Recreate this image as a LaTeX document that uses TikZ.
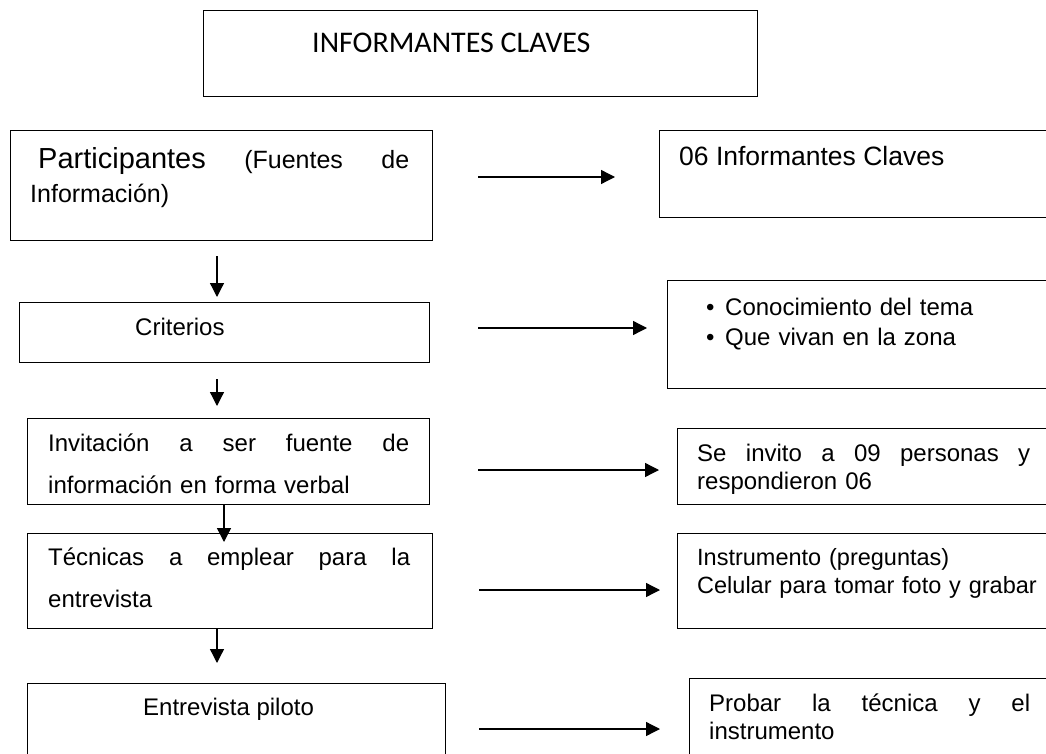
\documentclass[tikz,border=0pt]{standalone}
\usepackage{fontspec}
\setmainfont{Liberation Sans}
\newfontfamily\titlefont{Carlito}
\usetikzlibrary{arrows.meta,positioning,calc}
\newcommand{\jline}[2]{\hbox to #1{#2}}
\tikzset{
  flowbox/.style ={draw,line width=1.3pt,anchor=north west,inner sep=0pt},
  txt/.style     ={anchor=base west,inner sep=0pt,align=left,
                   font=\fontsize{24}{28}\selectfont},
  widetxt/.style ={txt,font=\fontsize{24}{42}\selectfont},
  arr/.style     ={-{Triangle[length=14pt,width=14pt]},line width=1.3pt},
}
\begin{document}
\begin{tikzpicture}[x=1pt,y=-1pt]
\useasboundingbox (0,0) rectangle (1046,754);
\clip (0,0) rectangle (1046,754);

% title
\node[flowbox,minimum width=554pt,minimum height=86pt] (title) at (203,10) {};
\node[txt,font=\titlefont\fontsize{30}{36}\selectfont] (titletxt) at (312,53)
   {INFORMANTES CLAVES};

% left column
\node[flowbox,minimum width=422pt,minimum height=110pt] (b1) at (10,130) {};
\node[flowbox,minimum width=410pt,minimum height=60pt]  (b2) at (19,302) {};
\node[flowbox,minimum width=402pt,minimum height=86pt]  (b3) at (27,418) {};
\node[flowbox,minimum width=405pt,minimum height=95pt]  (b4) at (27,533) {};
\node[flowbox,minimum width=418pt,minimum height=100pt] (b5) at (27,683) {};

\node[txt,text width=379pt,font=\fontsize{25}{33}\selectfont] (b1t) at (30,169)
   {\jline{379pt}{\kern8pt{\fontsize{29}{33}\selectfont Participantes}\hfill
    (Fuentes\hfill de}\\ Información)};
\node[txt] (b2t) at (135,335) {Criterios};
\node[widetxt,text width=361pt] (b3t) at (48,451)
   {\jline{361pt}{Invitación\hfill a\hfill ser\hfill fuente\hfill de}\\
    información en forma verbal};
\node[widetxt,text width=362pt] (b4t) at (48,565)
   {\jline{362pt}{Técnicas\hfill a\hfill emplear\hfill para\hfill la}\\ entrevista};
\node[txt] (b5t) at (143,715) {Entrevista piloto};

% right column
\node[flowbox,minimum width=400pt,minimum height=87pt]  (r1) at (659,130) {};
\node[flowbox,minimum width=400pt,minimum height=108pt] (r2) at (667,280) {};
\node[flowbox,minimum width=400pt,minimum height=76pt]  (r3) at (677,428) {};
\node[flowbox,minimum width=400pt,minimum height=95pt]  (r4) at (677,533) {};
\node[flowbox,minimum width=400pt,minimum height=100pt] (r5) at (689,678) {};

\node[txt,font=\fontsize{26.5}{30}\selectfont] (r1t) at (679,166) {06 Informantes Claves};
\node[txt,text width=330pt,font=\fontsize{24}{30}\selectfont] (r2t) at (706,315)
   {\makebox[19pt][l]{•}Conocimiento del tema\\
    \makebox[19pt][l]{•}Que vivan en la zona};
\node[txt,text width=333pt] (r3t) at (697,461)
   {\jline{333pt}{Se\hfill invito\hfill a\hfill 09\hfill personas\hfill y}\\
    respondieron 06};
\node[txt,text width=360pt,font=\fontsize{23.5}{28}\selectfont] (r4t) at (697,565)
   {Instrumento (preguntas)\\ Celular para tomar foto y grabar};
\node[txt,text width=321pt] (r5t) at (709,711)
   {\jline{321pt}{Probar\hfill la\hfill técnica\hfill y\hfill el}\\ instrumento};

% downward flow
\draw[arr] ($(b1.south west)+(207,15)$) -- ($(b2.north west)+(198,-5)$);
\draw[arr] ($(b2.south west)+(198,16)$) -- ($(b3.north west)+(190,-12)$);
\draw[arr] ($(b3.south west)+(197,0)$)  -- ($(b4.north west)+(197,9)$);
\draw[arr] ($(b4.south west)+(190,0)$)  -- ($(b5.north west)+(190,-20)$);

% left to right
\draw[arr] ($(b1.north east)+(45,47)$) -- ($(r1.north west)+(-44,47)$);
\draw[arr] ($(b2.north east)+(48,26)$) -- ($(r2.north west)+(-20,48)$);
\draw[arr] ($(b3.north east)+(48,52)$) -- ($(r3.north west)+(-18,42)$);
\draw[arr] ($(b4.north east)+(46,57)$) -- ($(r4.north west)+(-17,57)$);
\draw[arr] ($(b5.north east)+(33,46)$) -- ($(r5.north west)+(-29,51)$);

\end{tikzpicture}
\end{document}
